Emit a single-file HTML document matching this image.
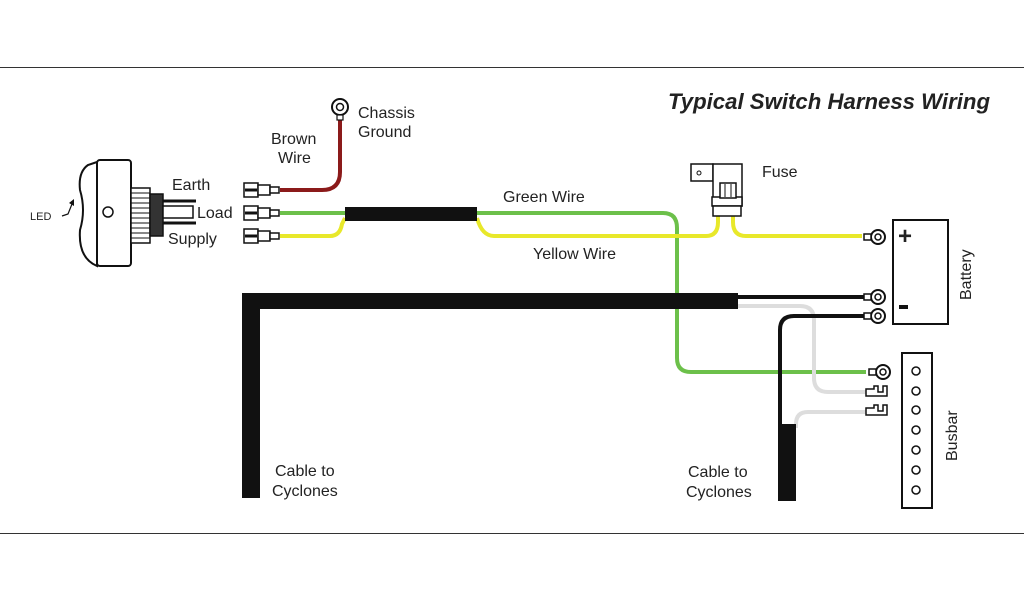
<!DOCTYPE html>
<html><head><meta charset="utf-8"><style>
html,body{margin:0;padding:0;background:#fff;width:1024px;height:600px;overflow:hidden}
svg{display:block}
text{font-family:"Liberation Sans","DejaVu Sans",sans-serif;font-size:16px;fill:#222}
</style></head><body>
<svg width="1024" height="600" viewBox="0 0 1024 600">
<line x1="0" y1="67.5" x2="1024" y2="67.5" stroke="#333" stroke-width="1"/>
<line x1="0" y1="533.5" x2="1024" y2="533.5" stroke="#333" stroke-width="1"/>
<text x="668" y="109" style="font-size:22px;font-weight:bold;font-style:italic" textLength="322" lengthAdjust="spacingAndGlyphs">Typical Switch Harness Wiring</text>

<!-- switch -->
<path d="M97,162 L88,165 Q78,172 80,190 Q86,210 80,230 Q78,258 97,266 Z" fill="#fff" stroke="#111" stroke-width="2"/>
<rect x="97" y="160" width="34" height="106" rx="3" fill="#fff" stroke="#111" stroke-width="2"/>
<circle cx="108" cy="212" r="5" fill="none" stroke="#111" stroke-width="1.5"/>
<rect x="131" y="188" width="19" height="55" fill="#fff" stroke="#111" stroke-width="1.5"/>
<g stroke="#111" stroke-width="1">
<line x1="131" y1="193" x2="150" y2="193"/><line x1="131" y1="198" x2="150" y2="198"/><line x1="131" y1="203" x2="150" y2="203"/><line x1="131" y1="208" x2="150" y2="208"/><line x1="131" y1="213" x2="150" y2="213"/><line x1="131" y1="218" x2="150" y2="218"/><line x1="131" y1="223" x2="150" y2="223"/><line x1="131" y1="228" x2="150" y2="228"/><line x1="131" y1="233" x2="150" y2="233"/><line x1="131" y1="238" x2="150" y2="238"/>
</g>
<rect x="150" y="194" width="13" height="42" fill="#333" stroke="#111" stroke-width="1.5"/>
<line x1="163" y1="201" x2="196" y2="201" stroke="#111" stroke-width="3"/>
<line x1="163" y1="223" x2="196" y2="223" stroke="#111" stroke-width="3"/>
<rect x="163" y="206" width="30" height="12" fill="#fff" stroke="#111" stroke-width="1.5"/>
<path d="M62,216 L68,214 L72,204" fill="none" stroke="#111" stroke-width="1.2"/>
<path d="M69,203 L74,199 L74,206 Z" fill="#111"/>
<text x="30" y="220" style="font-size:11px">LED</text>
<text x="172" y="190">Earth</text>
<text x="197" y="218">Load</text>
<text x="168" y="244">Supply</text>

<!-- wires -->
<path d="M280,190 H322 Q340,190 340,172 V118" fill="none" stroke="#8b1a1a" stroke-width="4"/>
<path d="M280,213 H345" stroke="#6cc04a" stroke-width="4"/>
<path d="M280,236 H330 Q340,236 342,224 L345,218" fill="none" stroke="#e8e82a" stroke-width="4"/>
<path d="M477,213 H663 Q677,213 677,228 V358 Q677,372 691,372 H866" fill="none" stroke="#6cc04a" stroke-width="4"/>
<path d="M477,218 Q482,236 494,236 H706 Q718,236 718,222 V212" fill="none" stroke="#e8e82a" stroke-width="4"/>
<path d="M733,212 V222 Q733,236 746,236 H862" fill="none" stroke="#e8e82a" stroke-width="4"/>
<rect x="345" y="207" width="132" height="14" fill="#111"/>
<!-- black cable -->
<path d="M242,293 H738 V309 H260 V498 H242 Z" fill="#111"/>
<line x1="738" y1="297" x2="866" y2="297" stroke="#111" stroke-width="4"/>
<path d="M738,306 H800 Q814,306 814,320 V378 Q814,392 828,392 H866" fill="none" stroke="#ddd" stroke-width="4"/>
<path d="M866,316 H794 Q780,316 780,330 V430" fill="none" stroke="#111" stroke-width="4"/>
<path d="M866,412 H808 Q796,412 796,424 V428" fill="none" stroke="#ddd" stroke-width="4"/>
<rect x="778" y="424" width="18" height="77" fill="#111"/>

<!-- connectors left -->
<g fill="#fff" stroke="#111" stroke-width="1.5">
<rect x="244" y="183" width="14" height="14"/><rect x="258" y="185" width="12" height="10"/><rect x="270" y="187" width="9" height="6"/>
<rect x="244" y="206" width="14" height="14"/><rect x="258" y="208" width="12" height="10"/><rect x="270" y="210" width="9" height="6"/>
<rect x="244" y="229" width="14" height="14"/><rect x="258" y="231" width="12" height="10"/><rect x="270" y="233" width="9" height="6"/>
</g>
<g stroke="#111" stroke-width="3"><line x1="245" y1="190" x2="257" y2="190"/><line x1="245" y1="213" x2="257" y2="213"/><line x1="245" y1="236" x2="257" y2="236"/></g>
<!-- chassis ring -->
<circle cx="340" cy="107" r="8" fill="#fff" stroke="#111" stroke-width="2"/>
<circle cx="340" cy="107" r="3.5" fill="#fff" stroke="#111" stroke-width="1.5"/>
<rect x="337" y="115" width="6" height="5" fill="#fff" stroke="#111" stroke-width="1.2"/>
<text x="358" y="118">Chassis</text><text x="358" y="137">Ground</text>
<text x="271" y="144">Brown</text><text x="278" y="163">Wire</text>
<text x="503" y="202">Green Wire</text>
<text x="533" y="259">Yellow Wire</text>
<text x="762" y="177">Fuse</text>
<text x="275" y="476">Cable to</text><text x="272" y="496">Cyclones</text>
<text x="688" y="477">Cable to</text><text x="686" y="497">Cyclones</text>

<!-- fuse -->
<rect x="691" y="164" width="22" height="17" fill="#fff" stroke="#111" stroke-width="1.5"/>
<circle cx="699" cy="173" r="2" fill="none" stroke="#111"/>
<rect x="713" y="164" width="29" height="42" fill="#fff" stroke="#111" stroke-width="1.5"/>
<rect x="712" y="197" width="30" height="9" fill="#fff" stroke="#111" stroke-width="1.5"/>
<rect x="720" y="183" width="16" height="15" fill="#fff" stroke="#111" stroke-width="1.5"/>
<line x1="725" y1="184" x2="725" y2="197" stroke="#111"/><line x1="731" y1="184" x2="731" y2="197" stroke="#111"/>
<rect x="713" y="206" width="28" height="10" fill="#fff" stroke="#111" stroke-width="1.5"/>

<!-- battery -->
<rect x="893" y="220" width="55" height="104" fill="#fff" stroke="#111" stroke-width="2"/>
<text x="898" y="244" style="font-size:24px;font-weight:bold">+</text>
<rect x="899" y="305" width="9" height="4" fill="#111"/>
<text transform="translate(971,300) rotate(-90)">Battery</text>
<!-- ring terminals -->
<g fill="#fff" stroke="#111" stroke-width="2">
<circle cx="878" cy="237" r="7"/><circle cx="878" cy="297" r="7"/><circle cx="878" cy="316" r="7"/><circle cx="883" cy="372" r="7"/>
</g>
<g fill="#fff" stroke="#111" stroke-width="1.5">
<circle cx="878" cy="237" r="3"/><circle cx="878" cy="297" r="3"/><circle cx="878" cy="316" r="3"/><circle cx="883" cy="372" r="3"/>
<rect x="864" y="234" width="7" height="6"/><rect x="864" y="294" width="7" height="6"/><rect x="864" y="313" width="7" height="6"/><rect x="869" y="369" width="7" height="6"/>
<path d="M866,389 H874 V386 H878 V392 H883 V386 H887 V396 H866 Z"/>
<path d="M866,408 H874 V405 H878 V411 H883 V405 H887 V415 H866 Z"/>
</g>
<!-- busbar -->
<rect x="902" y="353" width="30" height="155" fill="#fff" stroke="#111" stroke-width="2"/>
<g fill="none" stroke="#111" stroke-width="1.5">
<circle cx="916" cy="371" r="4"/><circle cx="916" cy="391" r="4"/><circle cx="916" cy="410" r="4"/><circle cx="916" cy="430" r="4"/><circle cx="916" cy="450" r="4"/><circle cx="916" cy="470" r="4"/><circle cx="916" cy="490" r="4"/>
</g>
<text transform="translate(957,461) rotate(-90)">Busbar</text>
</svg>
</body></html>
